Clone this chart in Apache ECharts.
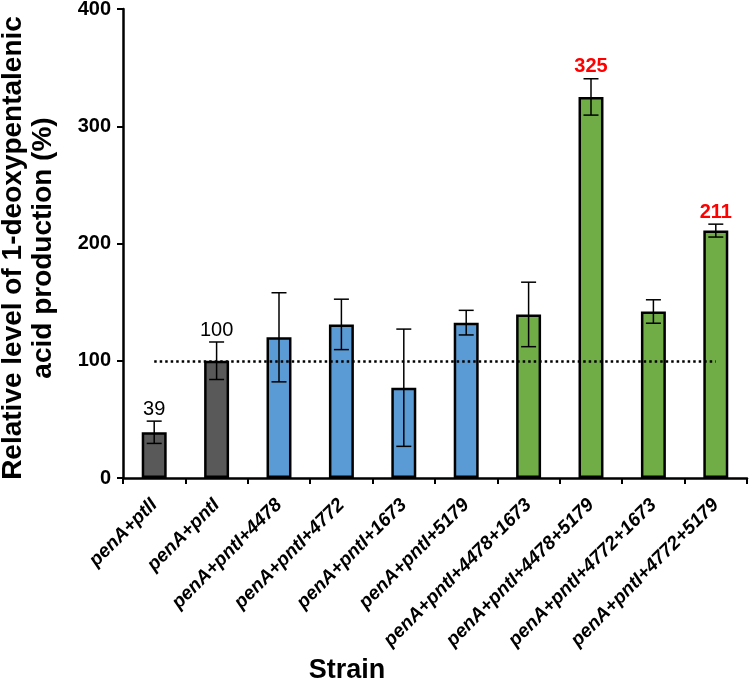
<!DOCTYPE html>
<html><head><meta charset="utf-8">
<script src="https://cdn.jsdelivr.net/npm/echarts@6/dist/echarts.min.js"></script>
<style>html,body{margin:0;padding:0;background:#fff}#c{width:750px;height:679px}</style>
</head><body><div id="c"></div>
<script>
const categories = ['penA+ptlI','penA+pntI','penA+pntI+4478','penA+pntI+4772','penA+pntI+1673','penA+pntI+5179','penA+pntI+4478+1673','penA+pntI+4478+5179','penA+pntI+4772+1673','penA+pntI+4772+5179'];
const values = [39, 100, 120, 131, 77, 132.5, 139.5, 325, 142, 211];
const errors = [9.5, 16, 38, 21.5, 50, 10.5, 27.5, 15.5, 10, 5.5];
const groups = ['control','control','single','single','single','single','double','double','double','double'];
const valueLabels = ['39','100','','','','','','325','','211'];
const highlighted = [false,false,false,false,false,false,false,true,false,true];
const yTicks = [0, 100, 200, 300, 400];
const referenceLevel = 100;

const groupColor = {control:'#595959', single:'#5b9bd5', double:'#70ad47'};
const font = '"Liberation Sans", Arial, sans-serif';

const chart = echarts.init(document.getElementById('c'), null, {renderer:'canvas'});
chart.setOption({
  animation:false,
  grid:{left:123, right:3, top:9, bottom:201, containLabel:false, outerBoundsMode:'none'},
  xAxis:{
    type:'category', data:categories,
    axisLine:{lineStyle:{color:'#000', width:2.5}},
    axisTick:{show:true, alignWithLabel:false, length:6, inside:false, lineStyle:{color:'#000', width:2}},
    axisLabel:{rotate:45, interval:0, margin:24, color:'#000', fontFamily:font, fontSize:19, fontWeight:'bold', fontStyle:'italic'},
    name:'Strain', nameLocation:'middle', nameGap:176,
    nameTextStyle:{fontFamily:font, fontSize:27, fontWeight:'bold', color:'#000', padding:[0,176,0,0]}
  },
  yAxis:{
    type:'value', min:yTicks[0], max:yTicks[yTicks.length-1], interval:100,
    splitLine:{show:false},
    axisLine:{show:true, lineStyle:{color:'#000', width:2.5}},
    axisTick:{show:true, length:6, lineStyle:{color:'#000', width:2}},
    axisLabel:{color:'#000', fontFamily:font, fontSize:20, fontWeight:'bold', margin:12},
    name:'Relative level of 1-deoxypentalenic\nacid production (%)',
    nameLocation:'middle', nameRotate:90, nameGap:65,
    nameTextStyle:{fontFamily:font, fontSize:28, fontWeight:'bold', color:'#000', lineHeight:30, padding:[0,9,0,0]}
  },
  series:[
    {
      type:'bar', barWidth:'40%',
      data: values.map((v,i)=>({value:v, itemStyle:{color:groupColor[groups[i]]}})),
      itemStyle:{borderColor:'#000', borderWidth:2.5},
      markLine:{
        silent:true, symbol:['none','none'], label:{show:false},
        lineStyle:{color:'#000', width:2.5, type:[2.5,3]},
        data:[[{coord:[categories[0], referenceLevel]},{coord:[categories[categories.length-1], referenceLevel]}]]
      },
      z:2
    },
    {
      type:'custom',
      data: values.map((v,i)=>[i, v, errors[i]]),
      renderItem:function(params, api){
        const i = api.value(0), v = api.value(1), e = api.value(2);
        const top = api.coord([i, v+e]);
        const bot = api.coord([i, v-e]);
        const hw = 7.5;
        const ls = {stroke:'#000', lineWidth:1.5};
        const children = [
          {type:'line', shape:{x1:top[0], y1:top[1], x2:bot[0], y2:bot[1]}, style:ls},
          {type:'line', shape:{x1:top[0]-hw, y1:top[1], x2:top[0]+hw, y2:top[1]}, style:ls},
          {type:'line', shape:{x1:bot[0]-hw, y1:bot[1], x2:bot[0]+hw, y2:bot[1]}, style:ls}
        ];
        const lab = valueLabels[params.dataIndex];
        if (lab) {
          const hl = highlighted[params.dataIndex];
          children.push({type:'text', style:{x:top[0], y:top[1]-2, text:lab, align:'center', verticalAlign:'bottom',
            fill: hl ? '#ff0000' : '#000', font:(hl?'bold ':'')+'20px '+font}});
        }
        return {type:'group', children:children};
      },
      z:3
    }
  ]
});
</script></body></html>
